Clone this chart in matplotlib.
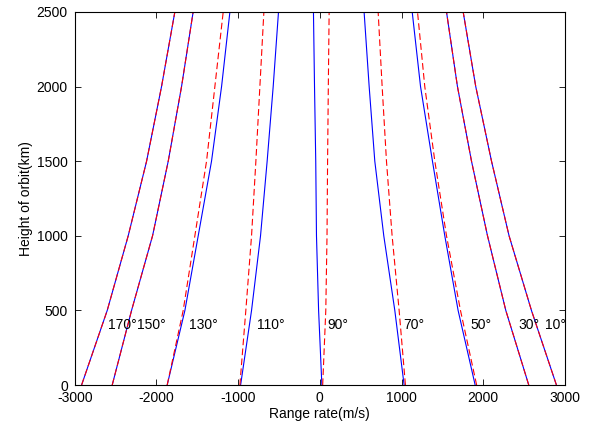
import numpy as np
import matplotlib
matplotlib.use('Agg')
import matplotlib.pyplot as plt

plt.rcParams['font.family'] = ['Liberation Sans', 'DejaVu Sans']
plt.rcParams['font.size'] = 10
plt.rcParams['axes.unicode_minus'] = False

# orbit heights (km) at which the range rate was sampled
heights = [0, 500, 1000, 1500, 2000, 2500]

# range rate (m/s) per look angle: exact model (blue) and approximation (red)
angles = [170, 150, 130, 110, 90, 70, 50, 30, 10]
exact = {
    170: [-2917, -2603, -2346, -2121, -1938, -1775],
    150: [-2542, -2305, -2048, -1856, -1693, -1551],
    130: [-1869, -1652, -1489, -1326, -1203, -1101],
    110: [-970, -836, -726, -645, -571, -506],
    90: [25, -15, -41, -50, -65, -78],
    70: [1032, 918, 783, 673, 604, 542],
    50: [1902, 1693, 1530, 1379, 1233, 1131],
    30: [2558, 2277, 2053, 1857, 1685, 1551],
    10: [2897, 2591, 2317, 2102, 1909, 1755],
}
approx = {
    170: [-2917, -2603, -2346, -2121, -1938, -1775],
    150: [-2542, -2305, -2048, -1856, -1693, -1551],
    130: [-1869, -1673, -1530, -1387, -1285, -1183],
    110: [-979, -906, -836, -783, -734, -685],
    90: [35, 73, 88, 95, 104, 114],
    70: [1048, 971, 885, 816, 763, 714],
    50: [1920, 1722, 1551, 1408, 1285, 1196],
    30: [2558, 2277, 2053, 1857, 1685, 1551],
    10: [2897, 2591, 2317, 2102, 1909, 1755],
}
# where the angle labels sit along the x axis
label_x = [-2590, -2235, -1605, -770, 95, 1020, 1845, 2435, 2760]
label_y = 400

fig = plt.figure(figsize=(5.89, 4.25), dpi=100)
ax = fig.add_axes([0.127, 0.094, 0.832, 0.878])

for a in angles:
    ax.plot(exact[a], heights, color='b', lw=0.8)
for a in angles:
    ax.plot(approx[a], heights, color='r', lw=0.8, linestyle=(0, (6, 3)))

for a, lx in zip(angles, label_x):
    ax.text(lx, label_y, '%d\u00b0' % a, ha='left', va='center', fontsize=10)

ax.set_xlim(-3000, 3000)
ax.set_ylim(0, 2500)
ax.set_xticks(np.arange(-3000, 3001, 1000))
ax.set_yticks(np.arange(0, 2501, 500))
ax.tick_params(direction='in', top=True, right=True, length=4, width=0.6)
ax.tick_params(axis='x', pad=4.5)
ax.tick_params(axis='y', pad=5)
for s in ax.spines.values():
    s.set_linewidth(0.8)
ax.set_xlabel('Range rate(m/s)', labelpad=1)
ax.set_ylabel('Height of orbit(km)', labelpad=3)

fig.savefig('out.png', dpi=100)
